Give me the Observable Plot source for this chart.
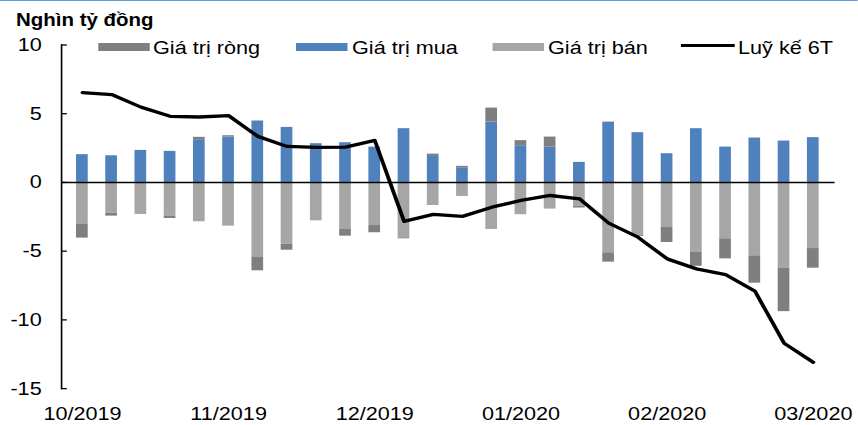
<!DOCTYPE html>
<html>
<head>
<meta charset="utf-8">
<script src="https://cdn.jsdelivr.net/npm/d3@7"></script>
<script src="https://cdn.jsdelivr.net/npm/@observablehq/plot@0.6"></script>
<style>
  html, body { margin: 0; padding: 0; background: #fff; overflow: hidden; }
  #wrap { position: relative; width: 733px; height: 425px; transform: scaleX(1.17); transform-origin: 0 0;
          font-family: "Liberation Sans", Arial, sans-serif; color: #000; }
  #wrap svg { position: absolute; left: 0; top: 0; }
  .topline { position: absolute; left: 0; top: 0; width: 100%; height: 1px; background: #5B9BD5; }
  .title { position: absolute; left: 13.7px; top: 11.9px; font-weight: bold; font-size: 17.5px; line-height: 17.5px; white-space: nowrap; }
  .lg { position: absolute; font-size: 18.5px; line-height: 18.5px; top: 39.3px; white-space: nowrap; }
  .sw { position: absolute; top: 42.5px; height: 8px; }
  .swl { position: absolute; top: 44px; height: 3.4px; background: #000; }
</style>
</head>
<body>
<div id="wrap">
  <div class="topline"></div>
</div>
<script>
// ---- data (Nghìn tỷ đồng), weekly ----
const weeks = ["1","2","3","4","5","6","7","8","9","10","11","12","13","14","15","16","17","18","19","20","21","22","23","24","25","26"];
const buy  = [2.02, 1.94, 2.33, 2.26, 3.11, 3.30, 4.47, 4.00, 2.82, 2.89, 2.57, 3.91, 1.89, 1.07, 4.39, 2.67, 2.57, 1.46, 4.39, 3.62, 2.09, 3.91, 2.57, 3.23, 3.01, 3.26];
const sell = [-3.06, -2.23, -2.33, -2.45, -2.86, -3.18, -5.46, -4.49, -2.79, -3.42, -3.13, -4.03, -1.68, -1.02, -3.42, -2.35, -1.94, -1.72, -5.12, -3.86, -3.28, -5.07, -4.10, -5.34, -6.24, -4.81];
const net  = [-0.99, -0.22, 0, -0.17, 0.17, 0.10, -0.97, -0.44, 0, -0.49, -0.53, -0.07, 0.17, 0.10, 1.02, 0.37, 0.73, -0.14, -0.68, -0.06, -1.09, -1.03, -1.46, -1.99, -3.16, -1.43];
const cum  = [6.53, 6.39, 5.48, 4.81, 4.76, 4.86, 3.35, 2.62, 2.55, 2.57, 3.06, -2.83, -2.33, -2.47, -1.80, -1.31, -0.95, -1.19, -2.96, -3.98, -5.56, -6.29, -6.70, -7.90, -11.70, -13.09];
const tickWeeks  = ["1", "6", "11", "16", "21", "26"];
const tickLabels = ["10/2019", "11/2019", "12/2019", "01/2020", "02/2020", "03/2020"];
const yTicks = [10, 5, 0, -5, -10, -15];
const legendLabels = ["Giá trị ròng", "Giá trị mua", "Giá trị bán", "Luỹ kế 6T"];
const colors = {net: "#7F7F7F", buy: "#4F81BD", sell: "#A6A6A6", cum: "#000000"};

const rows = weeks.map((w, i) => ({week: w, buy: buy[i], sell: sell[i], net: net[i], cum: cum[i]}));
const labelOf = new Map(tickWeeks.map((w, i) => [w, tickLabels[i]]));

const S = 1.17;
const W = 858 / S;

const chart = Plot.plot({
  width: W,
  height: 425,
  marginLeft: 61 / S,
  marginRight: (858 - 835) / S,
  marginTop: 44.5,
  marginBottom: 425 - 388.3,
  style: {fontFamily: '"Liberation Sans", Arial, sans-serif', fontSize: "18.5px", color: "#000", background: "transparent", overflow: "visible"},
  x: {type: "band", domain: weeks, paddingInner: 0.6, paddingOuter: 0.3, label: null},
  y: {domain: [-15, 10], label: null},
  marks: [
    Plot.barY(rows, {x: "week", y1: 0, y2: "buy", fill: colors.buy}),
    Plot.barY(rows, {x: "week", y1: 0, y2: "sell", fill: colors.sell}),
    Plot.barY(rows, {x: "week",
      y1: d => d.net >= 0 ? d.buy : d.sell,
      y2: d => (d.net >= 0 ? d.buy : d.sell) + d.net,
      fill: colors.net}),
    Plot.ruleY([0], {stroke: "#000", strokeWidth: 1.5}),
    Plot.line(rows, {x: "week", y: "cum", stroke: colors.cum, strokeWidth: 3.3, strokeLinejoin: "round"}),
    Plot.axisY({ticks: yTicks, tickSize: -5, tickPadding: 22, tickFormat: d => String(d), strokeWidth: 1.3}),
    Plot.axisX({ticks: tickWeeks, tickFormat: w => labelOf.get(w), tickSize: 0, tickPadding: 18}),
    Plot.frame({anchor: "left", stroke: "#000", strokeWidth: 1.4})
  ]
});

const wrap = document.getElementById("wrap");
wrap.appendChild(chart);

// title
const t = document.createElement("div");
t.className = "title";
t.textContent = "Nghìn tỷ đồng";
wrap.appendChild(t);

// legend
const items = [
  {label: legendLabels[0], color: colors.net, sx: 98, sw: 52, tx: 153, line: false},
  {label: legendLabels[1], color: colors.buy, sx: 296, sw: 51, tx: 352, line: false},
  {label: legendLabels[2], color: colors.sell, sx: 492, sw: 52, tx: 548, line: false},
  {label: legendLabels[3], color: colors.cum, sx: 681, sw: 54, tx: 738, line: true}
];
for (const it of items) {
  const sw = document.createElement("div");
  sw.className = it.line ? "swl" : "sw";
  sw.style.left = (it.sx / S) + "px";
  sw.style.width = (it.sw / S) + "px";
  sw.style.background = it.color;
  wrap.appendChild(sw);
  const tx = document.createElement("div");
  tx.className = "lg";
  tx.style.left = (it.tx / S) + "px";
  tx.textContent = it.label;
  wrap.appendChild(tx);
}
</script>
</body>
</html>
